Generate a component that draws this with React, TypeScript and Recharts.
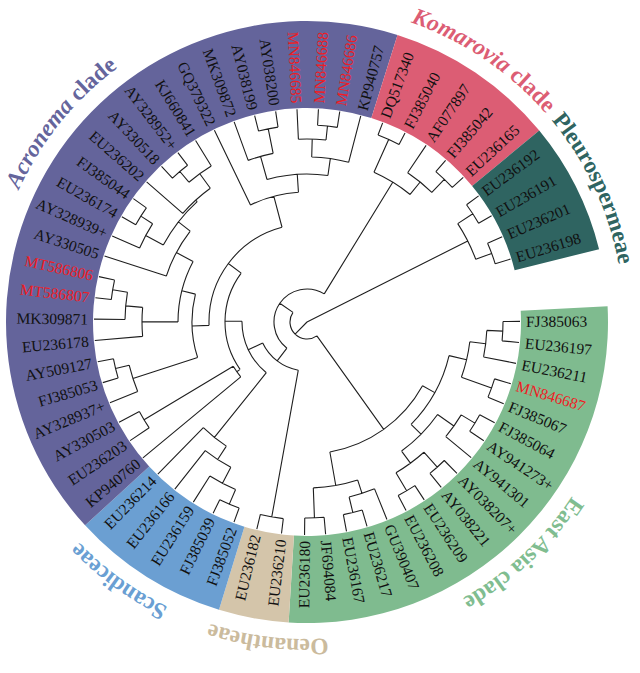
import React from 'react';
import { PieChart, Pie, Cell, Customized } from 'recharts';

// clades in clockwise order, starting just under 3 o'clock
const clades = ['East Asia clade', 'Oenantheae', 'Scandiceae', 'Acronema clade', 'Komarovia clade', 'Pleurospermeae'];
// angular width of each clade band (degrees)
const cladeSpans = [96.5, 13.5, 30.5, 150, 33, 25.5];
// where each curved clade title is centred (degrees, counter-clockwise from 3 o'clock)
const cladeLabelAngles = [-47, 263, 234, 141, 56, 25];
const cladeColors = ['#7fbb8f', '#d4c5aa', '#6b9fd2', '#64649b', '#dc5d74', '#2f6461'];
const cladeTextColors = ['#80bd90', '#cbbb9d', '#6a9fd3', '#65659c', '#dc5d74', '#2f6461'];
const italicWords = ['Acronema', 'Komarovia'];

const eastAsia = [
  'FJ385063', 'EU236197', 'EU236211', 'MN846687', 'FJ385067', 'FJ385064', 'AY941273+', 'AY941301',
  'AY038207+', 'AY038221', 'EU236209', 'EU236208', 'GU390407', 'EU236217', 'EU236167', 'JF694084', 'EU236180',
];
const oenantheae = ['EU236210', 'EU236182'];
const scandiceae = ['FJ385052', 'FJ385039', 'EU236159', 'EU236166', 'EU236214'];
const acronema = [
  'KP940760', 'EU236203', 'AY330503', 'AY328937+', 'FJ385053', 'AY509127', 'EU236178', 'MK309871',
  'MT586807', 'MT586806', 'AY330505', 'AY328939+', 'EU236174', 'FJ385044', 'EU236202', 'AY330518',
  'AY328952+', 'KJ660841', 'GQ379322', 'MK309872', 'AY038199', 'AY038200', 'MN846685', 'MN846688',
  'MN846686', 'KP940757',
];
const komarovia = ['DQ517340', 'FJ385040', 'AF077897', 'FJ385042', 'EU236165'];
const pleurospermeae = ['EU236192', 'EU236191', 'EU236201', 'EU236198'];
const newSequences = ['MN846687', 'MT586806', 'MT586807', 'MN846685', 'MN846688', 'MN846686'];

// topology: node(depth, ...children); tips sit at depth 213
type TreeNode = string | { d: number; c: TreeNode[] };
const node = (d: number, ...c: TreeNode[]): TreeNode => ({ d, c });
const TIP_DEPTH = 213;

const pleuroTree = node(180, node(198, 'EU236192', 'EU236191'), node(197, 'EU236201', 'EU236198'));
const komaroviaTree = node(164, node(200, 'DQ517340', 'FJ385040'), node(180, 'AF077897', node(198, 'FJ385042', 'EU236165')));
const oenanTree = node(198, 'EU236210', 'EU236182');
const scandTree = node(148, node(164, node(182, node(198, 'FJ385052', 'FJ385039'), 'EU236159'), 'EU236166'), 'EU236214');
const acronemaTree = node(82,
  node(86, 'KP940760', node(190, 'EU236203', 'AY330503')),
  node(98,
    node(115,
      node(183, 'AY328937+', node(197, 'FJ385053', 'AY509127')),
      node(129,
        node(165, 'EU236178', node(182, 'MK309871', node(197, 'MT586807', 'MT586806'))),
        node(148, 'AY330505',
          node(163,
            node(183, 'AY328939+', node(197, 'EU236174', 'FJ385044')),
            node(165, 'EU236202', node(183, node(197, 'AY330518', 'AY328952+'), 'KJ660841')))))),
    node(130, 'GQ379322',
      node(148,
        node(172, 'MK309872', node(197, 'AY038199', 'AY038200')),
        node(165, node(183, 'MN846685', node(197, 'MN846688', 'MN846686')), 'KP940757')))));
const eastAsiaTree = node(132,
  node(146,
    node(164, node(180, node(196, 'FJ385063', 'EU236197'), 'EU236211'), node(196, 'MN846687', 'FJ385067')),
    node(160,
      node(180, node(196, 'FJ385064', 'AY941273+'), 'AY941301'),
      node(175, node(195, 'AY038207+', 'AY038221'), node(196, 'EU236209', 'EU236208')))),
  node(166, node(180, 'GU390407', node(196, 'EU236217', 'EU236167')), node(196, 'JF694084', 'EU236180')));
const tree = node(0,
  node(17, eastAsiaTree, node(33, node(49, oenanTree, node(65, scandTree, acronemaTree)), komaroviaTree)),
  pleuroTree);

const W = 640;
const H = 673;
const CX = 307;
const CY = 322;
const BAND_INNER = 214;
const BAND_OUTER = 301;
const TREE_R = 213;
const LABEL_R = 219;
const CLADE_R = 317;
const START = 3;
const RAD = Math.PI / 180;
const SERIF = '"Liberation Serif", "Times New Roman", serif';

const cladeLeaves = [eastAsia, oenantheae, scandiceae, acronema, komarovia, pleurospermeae];
const leaves = cladeLeaves.flat();
const bandData = clades.map((name, i) => ({ name, span: cladeSpans[i] }));
const leafData = cladeLeaves.flatMap((list, ci) =>
  list.map((name) => ({ name, span: cladeSpans[ci] / list.length })),
);
const total = cladeSpans.reduce((s, v) => s + v, 0);

// same even split the leaf pie uses
const leafAngle: Record<string, number> = {};
let acc = START;
leafData.forEach((d) => {
  leafAngle[d.name] = acc - d.span / 2;
  acc -= d.span;
});

function polar(r: number, angle: number) {
  return { x: CX + r * Math.cos(-angle * RAD), y: CY + r * Math.sin(-angle * RAD) };
}

function depthToRadius(d: number) {
  return (d / TIP_DEPTH) * TREE_R;
}

function TreeLayer() {
  const parts: string[] = [];
  const walk = (n: TreeNode): { a: number; d: number } => {
    if (typeof n === 'string') return { a: leafAngle[n], d: TIP_DEPTH };
    const kids = n.c.map(walk);
    const a = kids.reduce((s, k) => s + k.a, 0) / kids.length;
    const r = depthToRadius(n.d);
    kids.forEach((k) => {
      const p1 = polar(r, k.a);
      const p2 = polar(depthToRadius(k.d), k.a);
      parts.push(`M${p1.x.toFixed(2)},${p1.y.toFixed(2)}L${p2.x.toFixed(2)},${p2.y.toFixed(2)}`);
    });
    if (r > 0) {
      const hi = Math.max(...kids.map((k) => k.a));
      const lo = Math.min(...kids.map((k) => k.a));
      const p1 = polar(r, hi);
      const p2 = polar(r, lo);
      const large = hi - lo > 180 ? 1 : 0;
      parts.push(`M${p1.x.toFixed(2)},${p1.y.toFixed(2)}A${r},${r} 0 ${large} 1 ${p2.x.toFixed(2)},${p2.y.toFixed(2)}`);
    }
    return { a, d: n.d };
  };
  walk(tree);
  return <path d={parts.join('')} fill="none" stroke="#1f1f1f" strokeWidth={1.1} />;
}

const renderLeafLabel = (props: any) => {
  const { midAngle, index } = props;
  const name = leaves[index];
  const p = polar(LABEL_R, midAngle);
  const flip = Math.cos(midAngle * RAD) < 0;
  const rot = flip ? 180 - midAngle : -midAngle;
  return (
    <text
      key={`leaf-${index}`}
      x={p.x}
      y={p.y}
      transform={`rotate(${rot} ${p.x} ${p.y})`}
      textAnchor={flip ? 'end' : 'start'}
      dominantBaseline="central"
      fontSize={15.5}
      fontFamily={SERIF}
      fill={newSequences.includes(name) ? '#ee1c25' : '#111'}
    >
      {name}
    </text>
  );
};

const renderCladeLabel = (props: any) => {
  const { index } = props;
  const mid = cladeLabelAngles[index];
  const p1 = polar(CLADE_R, mid + 88);
  const p2 = polar(CLADE_R, mid - 88);
  const id = `clade-path-${index}`;
  const [first, ...rest] = clades[index].split(' ');
  const italic = italicWords.includes(first);
  return (
    <g key={id}>
      <path id={id} d={`M${p1.x},${p1.y}A${CLADE_R},${CLADE_R} 0 0 1 ${p2.x},${p2.y}`} fill="none" stroke="none" />
      <text fontSize={23.5} fontWeight="bold" fontFamily={SERIF} fill={cladeTextColors[index]}>
        <textPath href={`#${id}`} startOffset="50%" textAnchor="middle">
          <tspan fontStyle={italic ? 'italic' : 'normal'}>{first}</tspan>
          {rest.length > 0 ? <tspan>{' ' + rest.join(' ')}</tspan> : null}
        </textPath>
      </text>
    </g>
  );
};

export default function App() {
  return (
    <div style={{ position: 'absolute', left: 0, top: 0, width: W, height: H, background: '#fff' }}>
      <PieChart width={W} height={H} margin={{ top: 0, right: 0, bottom: 0, left: 0 }}>
        <Pie
          data={bandData}
          dataKey="span"
          nameKey="name"
          cx={CX}
          cy={CY}
          innerRadius={BAND_INNER}
          outerRadius={BAND_OUTER}
          startAngle={START}
          endAngle={START - total}
          stroke="none"
          label={renderCladeLabel}
          labelLine={false}
          isAnimationActive={false}
        >
          {bandData.map((d, i) => (
            <Cell key={d.name} fill={cladeColors[i]} />
          ))}
        </Pie>
        <Pie
          data={leafData}
          dataKey="span"
          nameKey="name"
          cx={CX}
          cy={CY}
          innerRadius={BAND_INNER}
          outerRadius={BAND_OUTER}
          startAngle={START}
          endAngle={START - total}
          fill="transparent"
          stroke="none"
          label={renderLeafLabel}
          labelLine={false}
          isAnimationActive={false}
        />
        <Customized component={TreeLayer} />
      </PieChart>
    </div>
  );
}
